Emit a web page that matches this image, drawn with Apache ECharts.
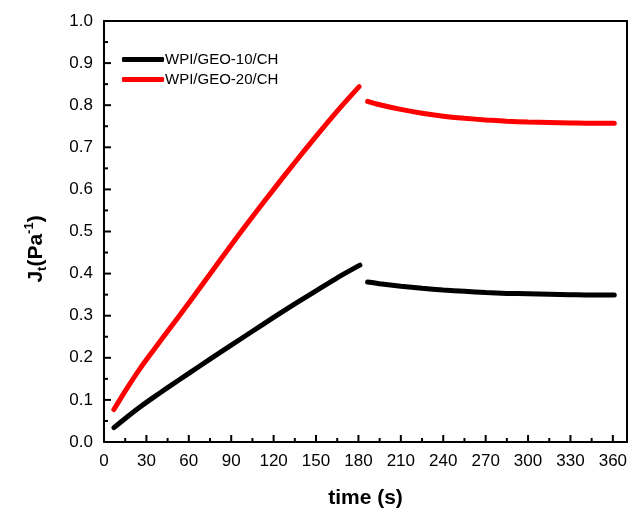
<!DOCTYPE html>
<html>
<head>
<meta charset="utf-8">
<script src="https://cdn.jsdelivr.net/npm/echarts@6/dist/echarts.min.js"></script>
<style>
  html, body { margin: 0; padding: 0; background: #fff; }
  #chart { width: 640px; height: 514px; }
</style>
</head>
<body>
<div id="chart"></div>
<script>
// Creep phase (0-180 s) and recovery phase (after 180 s), compliance J(t) in 1/Pa
const creepTime10 = [7, 15, 25, 35, 45, 60, 75, 90, 105, 120, 135, 150, 165, 181];
const creepJ10    = [0.034, 0.056, 0.082, 0.106, 0.129, 0.163, 0.197, 0.230, 0.263, 0.296, 0.328, 0.359, 0.390, 0.420];
const creepTime20 = [7, 15, 25, 35, 45, 60, 75, 90, 105, 120, 135, 150, 165, 180.5];
const creepJ20    = [0.077, 0.121, 0.172, 0.218, 0.263, 0.330, 0.399, 0.468, 0.535, 0.600, 0.664, 0.726, 0.786, 0.844];

const recTime  = [186.5, 195, 210, 225, 240, 255, 270, 285, 300, 315, 330, 345, 361];
const recJ10   = [0.380, 0.376, 0.370, 0.365, 0.361, 0.358, 0.355, 0.353, 0.352, 0.351, 0.350, 0.349, 0.349];
const recJ20   = [0.809, 0.801, 0.790, 0.781, 0.774, 0.769, 0.765, 0.762, 0.760, 0.759, 0.758, 0.757, 0.757];

const seriesNames = ['WPI/GEO-10/CH', 'WPI/GEO-20/CH'];
const seriesColors = ['#000000', '#ff0000'];

// Axis ranges and tick positions
const xTicks = { min: 0, max: 370, step: 30 };
const yTicks = { min: 0, max: 1, step: 0.1 };
const xMajorTicks = [30, 60, 90, 120, 150, 180, 210, 240, 270, 300, 330, 360];
const xMinorTicks = [15, 45, 75, 105, 135, 165, 195, 225, 255, 285, 315, 345];
const yMajorTicks = [0.1, 0.2, 0.3, 0.4, 0.5, 0.6, 0.7, 0.8, 0.9];
const yMinorTicks = [0.05, 0.15, 0.25, 0.35, 0.45, 0.55, 0.65, 0.75, 0.85, 0.95];

function pairs(xs, ys) { return xs.map((x, i) => [x, ys[i]]); }

function lineSeries(name, color, data) {
  return {
    name: name,
    type: 'line',
    data: data,
    symbol: 'none',
    smooth: 0.25,
    lineStyle: { color: color, width: 5, cap: 'round' },
    itemStyle: { color: color },
    z: 3
  };
}

// Inward tick marks as thin filled bars standing on the bottom or left axis
function tickSeries(values, horizontal, len) {
  const data = values.map(v => (horizontal ? [v, yTicks.min] : [xTicks.min, v]));
  return {
    type: 'custom',
    coordinateSystem: 'cartesian2d',
    silent: true,
    clip: false,
    z: 10,
    data: data,
    renderItem: function (params, api) {
      const p = api.coord([api.value(0), api.value(1)]);
      const shape = horizontal
        ? { x: p[0] - 1, y: p[1] - len, width: 2, height: len }
        : { x: p[0], y: p[1] - 1, width: len, height: 2 };
      return { type: 'rect', shape: shape, style: { fill: '#000' } };
    }
  };
}

const chart = echarts.init(document.getElementById('chart'), null, { renderer: 'canvas' });

const font = 'Liberation Sans, Arial, sans-serif';
const axisLineStyle = { color: '#000', width: 2 };

// Plain frame axis: only a line
function frameAxis(min, max, position) {
  return {
    type: 'value', min: min, max: max, position: position,
    axisLine: { show: true, onZero: false, lineStyle: axisLineStyle },
    axisTick: { show: false },
    axisLabel: { show: false },
    splitLine: { show: false }
  };
}

chart.setOption({
  backgroundColor: '#ffffff',
  animation: false,
  grid: { left: 104, right: 13, top: 21, bottom: 67 },
  legend: {
    left: 117, top: 46,
    orient: 'vertical',
    itemWidth: 42, itemHeight: 5, itemGap: 3,
    icon: 'roundRect',
    data: seriesNames,
    textStyle: { fontFamily: font, fontSize: 15, color: '#000', lineHeight: 17, padding: [0, 0, 0, -4] }
  },
  xAxis: [
    {
      type: 'value',
      min: xTicks.min, max: xTicks.max, interval: xTicks.step,
      position: 'bottom',
      name: 'time (s)',
      nameLocation: 'middle',
      nameGap: 46,
      nameTextStyle: { fontFamily: font, fontSize: 21, fontWeight: 'bold', color: '#000' },
      axisLine: { show: true, onZero: false, lineStyle: axisLineStyle },
      axisTick: { show: false },
      axisLabel: {
        fontFamily: font, fontSize: 17, color: '#000', margin: 11,
        formatter: v => (v % xTicks.step === 0 ? String(v) : '')
      },
      splitLine: { show: false }
    },
    frameAxis(xTicks.min, xTicks.max, 'top')
  ],
  yAxis: [
    {
      type: 'value',
      min: yTicks.min, max: yTicks.max, interval: yTicks.step,
      position: 'left',
      axisLine: { show: true, onZero: false, lineStyle: axisLineStyle },
      axisTick: { show: false },
      axisLabel: {
        fontFamily: font, fontSize: 17, color: '#000', margin: 11,
        formatter: v => v.toFixed(1)
      },
      splitLine: { show: false }
    },
    frameAxis(yTicks.min, yTicks.max, 'right')
  ],
  graphic: [
    {
      type: 'text',
      x: 36, y: 249,
      rotation: Math.PI / 2,
      style: {
        text: '{m|J}{sub|t}{m|(Pa}{sup|-1}{m|)}',
        align: 'center',
        verticalAlign: 'middle',
        fill: '#000',
        rich: {
          m:   { fontFamily: font, fontSize: 21, fontWeight: 'bold', lineHeight: 26, fill: '#000' },
          sub: { fontFamily: font, fontSize: 13, fontWeight: 'bold', lineHeight: 13, verticalAlign: 'bottom', fill: '#000' },
          sup: { fontFamily: font, fontSize: 13, fontWeight: 'bold', lineHeight: 13, verticalAlign: 'top', fill: '#000' }
        }
      }
    }
  ],
  series: [
    lineSeries(seriesNames[0], seriesColors[0], pairs(creepTime10, creepJ10)),
    lineSeries(seriesNames[1], seriesColors[1], pairs(creepTime20, creepJ20)),
    lineSeries(seriesNames[0], seriesColors[0], pairs(recTime, recJ10)),
    lineSeries(seriesNames[1], seriesColors[1], pairs(recTime, recJ20)),
    tickSeries(xMajorTicks, true, 7),
    tickSeries(xMinorTicks, true, 4),
    tickSeries(yMajorTicks, false, 7),
    tickSeries(yMinorTicks, false, 4)
  ]
});
</script>
</body>
</html>
